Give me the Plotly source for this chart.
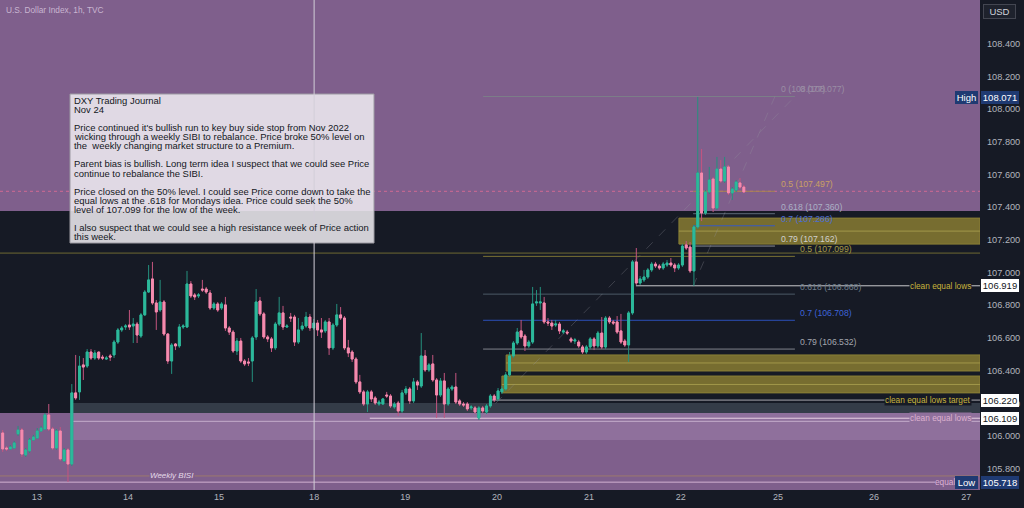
import plotly.graph_objects as go

# ---------------- DATA (hourly candles) ----------------
opens = [
    106.019, 105.927, 105.921, 105.927, 106.013, 106.037, 105.884, 105.909, 105.976, 105.988,
    106.031, 106.043, 106.129, 106.043, 105.927, 106.031, 105.848, 105.915, 105.829, 106.264,
    106.270, 106.435, 106.428, 106.514, 106.477, 106.514, 106.483, 106.471, 106.490, 106.496,
    106.575, 106.649, 106.667, 106.679, 106.673, 106.685, 106.612, 106.741, 106.881, 106.961,
    106.814, 106.771, 106.820, 106.624, 106.459, 106.563, 106.551, 106.667, 106.667, 106.930,
    106.863, 106.857, 106.899, 106.899, 106.875, 106.783, 106.808, 106.783, 106.802, 106.661,
    106.636, 106.520, 106.581, 106.459, 106.453,
    106.459, 106.606, 106.826, 106.747, 106.606, 106.594, 106.539, 106.685, 106.753, 106.667,
    106.728, 106.728, 106.575, 106.655, 106.673, 106.728, 106.661, 106.691, 106.649, 106.643,
    106.698, 106.539, 106.679, 106.741, 106.722, 106.539, 106.514, 106.471, 106.331, 106.270,
    106.196, 106.270, 106.233, 106.196, 106.196, 106.251, 106.245, 106.178, 106.202, 106.153,
    106.264, 106.288, 106.215, 106.331, 106.306, 106.490, 106.404, 106.441, 106.343, 106.251,
    106.337, 106.196, 106.288, 106.300, 106.215, 106.196, 106.196, 106.172, 106.172, 106.111,
    106.172, 106.147, 106.184, 106.245, 106.227, 106.270,
    106.288, 106.374, 106.490, 106.569, 106.643, 106.612, 106.551, 106.575, 106.814, 106.814,
    106.814, 106.698, 106.691, 106.679, 106.685, 106.636, 106.636, 106.594, 106.581, 106.575,
    106.545, 106.514, 106.545, 106.594, 106.551, 106.630, 106.545, 106.722, 106.698, 106.698,
    106.643, 106.581, 106.557, 106.753, 107.065, 106.936, 106.955, 106.973, 107.016, 107.052,
    107.040, 107.028, 107.046, 107.058, 107.046, 107.028, 107.046, 107.169, 107.156, 107.010,
    107.279, 107.609, 107.364, 107.493, 107.572, 107.395, 107.633, 107.560, 107.646, 107.487,
    107.505, 107.548, 107.523,
]
highs = [
    106.037, 105.939, 105.945, 105.970, 106.062, 106.049, 105.927, 105.988, 106.007, 106.049,
    106.062, 106.141, 106.196, 106.055, 106.043, 106.055, 105.927, 105.927, 106.318, 106.496,
    106.490, 106.477, 106.532, 106.532, 106.526, 106.514, 106.496, 106.490, 106.502, 106.588,
    106.661, 106.673, 106.685, 106.771, 106.722, 106.698, 106.753, 106.893, 107.046, 107.065,
    106.832, 106.955, 106.832, 106.630, 106.569, 106.569, 106.685, 106.685, 107.010, 106.948,
    106.875, 106.875, 106.955, 106.912, 106.893, 106.820, 106.820, 106.820, 106.851, 106.673,
    106.649, 106.600, 106.600, 106.471, 106.477,
    106.612, 106.899, 106.851, 106.759, 106.618, 106.606, 106.698, 106.851, 106.796, 106.685,
    106.753, 106.741, 106.722, 106.698, 106.759, 106.747, 106.716, 106.710, 106.722, 106.710,
    106.722, 106.691, 106.808, 106.789, 106.734, 106.588, 106.526, 106.483, 106.374, 106.282,
    106.282, 106.282, 106.245, 106.221, 106.233, 106.270, 106.257, 106.208, 106.215, 106.282,
    106.306, 106.300, 106.355, 106.343, 106.630, 106.526, 106.447, 106.496, 106.355, 106.355,
    106.386, 106.300, 106.312, 106.386, 106.227, 106.208, 106.208, 106.190, 106.184, 106.184,
    106.184, 106.196, 106.257, 106.257, 106.294, 106.306,
    106.392, 106.514, 106.581, 106.661, 106.710, 106.624, 106.588, 106.912, 106.893, 106.912,
    106.851, 106.722, 106.710, 106.710, 106.698, 106.655, 106.649, 106.606, 106.600, 106.588,
    106.557, 106.557, 106.606, 106.606, 106.643, 106.728, 106.734, 106.734, 106.710, 106.734,
    106.747, 106.594, 106.765, 107.077, 107.150, 106.979, 107.016, 107.028, 107.065, 107.065,
    107.052, 107.065, 107.077, 107.089, 107.058, 107.058, 107.175, 107.193, 107.187, 107.291,
    108.074, 107.756, 107.505, 107.646, 107.584, 107.707, 107.688, 107.707, 107.658, 107.523,
    107.566, 107.578, 107.536,
]
lows = [
    105.903, 105.909, 105.915, 105.921, 106.001, 105.872, 105.872, 105.897, 105.970, 105.982,
    106.025, 106.037, 106.031, 105.915, 105.915, 105.848, 105.841, 105.719, 105.817, 106.221,
    106.221, 106.343, 106.416, 106.465, 106.465, 106.465, 106.465, 106.465, 106.459, 106.477,
    106.563, 106.636, 106.649, 106.649, 106.569, 106.569, 106.600, 106.734, 106.875, 106.802,
    106.649, 106.759, 106.612, 106.441, 106.380, 106.526, 106.539, 106.655, 106.661, 106.844,
    106.832, 106.844, 106.881, 106.869, 106.771, 106.771, 106.759, 106.771, 106.643, 106.618,
    106.508, 106.496, 106.447, 106.428, 106.428,
    106.331, 106.588, 106.734, 106.594, 106.575, 106.514, 106.526, 106.673, 106.649, 106.661,
    106.698, 106.551, 106.563, 106.643, 106.661, 106.643, 106.649, 106.612, 106.600, 106.630,
    106.496, 106.526, 106.667, 106.710, 106.526, 106.483, 106.453, 106.318, 106.257, 106.184,
    106.147, 106.208, 106.190, 106.184, 106.190, 106.233, 106.172, 106.166, 106.123, 106.141,
    106.251, 106.196, 106.202, 106.282, 106.294, 106.392, 106.392, 106.331, 106.111, 106.239,
    106.111, 106.184, 106.276, 106.196, 106.184, 106.178, 106.153, 106.159, 106.135, 106.098,
    106.141, 106.135, 106.172, 106.208, 106.215, 106.257,
    106.276, 106.361, 106.477, 106.557, 106.594, 106.520, 106.539, 106.563, 106.796, 106.771,
    106.685, 106.673, 106.649, 106.667, 106.624, 106.624, 106.618, 106.569, 106.563, 106.539,
    106.502, 106.502, 106.532, 106.526, 106.539, 106.532, 106.532, 106.685, 106.679, 106.624,
    106.563, 106.545, 106.453, 106.741, 106.924, 106.924, 106.942, 106.961, 107.003, 107.028,
    107.016, 107.016, 107.034, 107.034, 107.003, 107.016, 107.034, 107.138, 106.997, 106.918,
    107.266, 107.315, 107.352, 107.480, 107.370, 107.383, 107.548, 107.548, 107.474, 107.444,
    107.493, 107.511, 107.487,
]
closes = [
    105.921, 105.921, 105.933, 105.958, 106.037, 105.890, 105.915, 105.976, 105.994, 106.031,
    106.049, 106.129, 106.043, 105.927, 106.031, 105.860, 105.915, 105.829, 106.264, 106.233,
    106.428, 106.422, 106.514, 106.477, 106.508, 106.477, 106.477, 106.477, 106.483, 106.575,
    106.649, 106.661, 106.673, 106.667, 106.685, 106.618, 106.741, 106.881, 106.955, 106.814,
    106.759, 106.820, 106.624, 106.459, 106.557, 106.551, 106.667, 106.673, 106.930, 106.857,
    106.851, 106.863, 106.893, 106.881, 106.783, 106.808, 106.771, 106.808, 106.661, 106.636,
    106.520, 106.581, 106.459, 106.441, 106.447,
    106.600, 106.820, 106.747, 106.606, 106.594, 106.539, 106.685, 106.753, 106.667, 106.673,
    106.722, 106.575, 106.649, 106.673, 106.728, 106.661, 106.691, 106.649, 106.636, 106.698,
    106.539, 106.679, 106.741, 106.722, 106.539, 106.508, 106.471, 106.331, 106.270, 106.196,
    106.270, 106.227, 106.202, 106.208, 106.227, 106.245, 106.184, 106.196, 106.153, 106.264,
    106.288, 106.215, 106.331, 106.312, 106.490, 106.404, 106.435, 106.343, 106.251, 106.337,
    106.196, 106.288, 106.300, 106.208, 106.196, 106.190, 106.166, 106.178, 106.147, 106.172,
    106.153, 106.184, 106.245, 106.221, 106.276, 106.288,
    106.374, 106.490, 106.569, 106.636, 106.606, 106.551, 106.575, 106.808, 106.820, 106.820,
    106.698, 106.691, 106.673, 106.685, 106.643, 106.643, 106.630, 106.581, 106.588, 106.551,
    106.514, 106.545, 106.594, 106.551, 106.630, 106.545, 106.722, 106.698, 106.691, 106.636,
    106.575, 106.557, 106.753, 107.065, 106.936, 106.961, 106.973, 107.016, 107.052, 107.040,
    107.028, 107.052, 107.058, 107.046, 107.028, 107.046, 107.162, 107.150, 107.010, 107.279,
    107.609, 107.364, 107.493, 107.566, 107.395, 107.633, 107.560, 107.646, 107.487, 107.511,
    107.554, 107.523, 107.493,
]

day_labels = ["13", "14", "15", "18", "19", "20", "21", "22", "25", "26", "27"]
day_bar_pos = [8.9, 32.6, 56.3, 81.1, 104.8, 128.7, 152.7, 176.6, 201.9, 226.9, 250.9]

price_ticks = [105.8, 106.0, 106.2, 106.4, 106.6, 106.8, 107.0, 107.2, 107.4, 107.6, 107.8, 108.0, 108.2, 108.4]

fib1_levels = [("0", 108.077), ("0.5", 107.099), ("0.618", 106.868), ("0.7", 106.708), ("0.79", 106.532)]
fib2_levels = [("0", 108.077), ("0.5", 107.497), ("0.618", 107.360), ("0.7", 107.286), ("0.79", 107.162)]

journal_lines = [
    "DXY Trading Journal",
    "Nov 24",
    "",
    "Price continued it's bullish run to key buy side stop from Nov 2022",
    "wicking through a weekly SIBI to rebalance. Price broke 50% level on",
    "the\u00a0 weekly changing market structure to a Premium.",
    "",
    "Parent bias is bullish. Long term idea I suspect that we could see Price",
    "continue to rebalance the SIBI.",
    "",
    "Price closed on the 50% level. I could see Price come down to take the",
    "equal lows at the .618 for Mondays idea. Price could seek the 50%",
    "level of 107.099 for the low of the week.",
    "",
    "I also suspect that we could see a high resistance week of Price action",
    "this week.",
]

last_close = 107.497
high_val, low_val = 108.071, 105.718
clean_lows, clean_target, clean_lows2 = 106.919, 106.220, 106.109

# ---------------- LAYOUT HELPERS ----------------
X_RANGE = [-0.7, 254.5]
Y_RANGE = [105.670, 108.667]
W, H = 980, 490
BG = "#161a25"
PURPLE = "#7f5f8c"
PURPLE_L = "#8f709c"
OLIVE = "#776d30"


def fx(px):
    return px / W


def fy(py):
    return 1 - py / H


shapes = []
ann = []


def rect(x0, x1, y0, y1, fill, xref="x", yref="y", line=None, layer="below"):
    shapes.append(dict(type="rect", xref=xref, yref=yref, x0=x0, x1=x1, y0=y0, y1=y1,
                       fillcolor=fill, line=line or dict(width=0), layer=layer))


def hline(y, x0, x1, color, width=1, dash="solid", xref="x", layer="below"):
    shapes.append(dict(type="line", xref=xref, yref="y", x0=x0, x1=x1, y0=y, y1=y,
                       line=dict(color=color, width=width, dash=dash), layer=layer))


def text(x, y, s, color, size=8.7, xanchor="left", yref="paper", yshift=0, bg=None, italic=False):
    ann.append(dict(x=x, y=y, xref="paper", yref=yref, text=(f"<i>{s}</i>" if italic else s),
                    showarrow=False, xanchor=xanchor, yanchor="middle", yshift=yshift,
                    font=dict(size=size, color=color, family="Liberation Sans, Arial"),
                    bgcolor=bg, borderpad=0))


def tag(y, s, bg, fg, x_px=981, width=38, yref="y", border=None):
    ann.append(dict(x=fx(x_px), y=y, xref="paper", yref=yref, text=s, showarrow=False,
                    xanchor="left", yanchor="middle", width=width, height=13, align="center",
                    bgcolor=bg, bordercolor=border or bg, borderwidth=1 if border else 0, borderpad=0,
                    font=dict(size=9.5, color=fg, family="Liberation Sans, Arial")))


# ---------------- ZONES ----------------
rect(0, 1, 107.376, 109.5, PURPLE, xref="paper")
rect(0, 1, 105.0, 106.141, PURPLE, xref="paper")
rect(18.3, X_RANGE[1], 105.976, 106.141, PURPLE_L)
rect(18.3, X_RANGE[1], 106.141, 106.202, "#343c48")
hline(106.090, 18.3, X_RANGE[1], "#c3abcb")

for x0, y0, y1 in [(176.1, 107.174, 107.333), (131.1, 106.398, 106.496), (130.0, 106.264, 106.367)]:
    rect(x0, X_RANGE[1], y0, y1, OLIVE, line=dict(color="#8a7f35", width=1))
    hline((y0 + y1) / 2, x0, X_RANGE[1], "#a1974a")

# full-width olive level
hline(107.119, 0, 1, "#6f6a33", xref="paper")

# fib retracements
fib1_x = (125.1, 206.3)
fib2_x = (179.8, 201.1)
fib1_line = {"0": "#7d7f88", "0.5": "#7a7234", "0.618": "#4c5a66", "0.7": "#2c50b8", "0.79": "#80838c"}
fib1_txt = {"0": "#9a8ea4", "0.5": "#a69b45", "0.618": "#6f7e8c", "0.7": "#3e64d8", "0.79": "#a3a6ae"}
fib2_line = {"0": "#7d7f88", "0.5": "#a8844f", "0.618": "#5d6a77", "0.7": "#3558c6", "0.79": "#8a8d96"}
fib2_txt = {"0": "#9a8ea4", "0.5": "#c9a064", "0.618": "#aab0c4", "0.7": "#4a6ed6", "0.79": "#d0d0cc"}
for lvl, p in fib1_levels:
    hline(p, fib1_x[0], fib1_x[1], fib1_line[lvl])
    text(fx(799), p, f"{lvl} ({p:.3f})", fib1_txt[lvl], yref="y", yshift=7)
for lvl, p in fib2_levels:
    hline(p, fib2_x[0], fib2_x[1], fib2_line[lvl])
    text(fx(780), p, f"{lvl} ({p:.3f})", fib2_txt[lvl], yref="y", yshift=7)

# dashed trend lines of the fibs
shapes.append(dict(type="line", xref="x", yref="y", x0=fib1_x[0], y0=106.121, x1=fib1_x[1], y1=108.077,
                   line=dict(color="rgba(150,150,160,0.3)", width=1, dash="dash"), layer="below"))
shapes.append(dict(type="line", xref="x", yref="y", x0=fib2_x[0], y0=106.916, x1=fib2_x[1], y1=108.077,
                   line=dict(color="rgba(150,150,160,0.3)", width=1, dash="dash"), layer="below"))

# close price dotted line
hline(last_close, 0, 1, "rgba(235,110,150,0.75)", dash="dot", xref="paper")

# marked liquidity lines
hline(clean_lows, 164.9, X_RANGE[1], "#c9c9cc")
hline(clean_target, 126.9, X_RANGE[1], "#a8a8ae")
hline(clean_lows2, 95.6, X_RANGE[1], "#e6d0e2")
hline(105.756, 0, 1, "#9c7a6e", xref="paper")
hline(low_val, -0.7, 242.8, "#d2b0d0")

# ---------------- TEXT BOX ----------------
rect(fx(70), fx(374), fy(243), fy(94), "rgba(240,238,242,0.86)", xref="paper", yref="paper",
     line=dict(color="#9c9aa2", width=1), layer="above")
for i, s in enumerate(journal_lines):
    if s:
        text(fx(73), fy(100.6 + i * 9.05), s, "#131722", size=9.45)

# crosshair vertical line
shapes.append(dict(type="line", xref="x", yref="paper", x0=81.1, x1=81.1, y0=0, y1=1,
                   line=dict(color="#d2ced8", width=1), layer="above"))

# ---------------- LABELS ----------------
text(fx(5), fy(10), "U.S. Dollar Index, 1h, TVC", "#c9b6d1", size=8.3)
text(fx(972), clean_lows, "clean equal lows", "#c8b43c", size=8.3, xanchor="right", yref="y", bg=BG)
text(fx(972), clean_target, "clean equal lows target", "#c8b43c", size=8.3, xanchor="right", yref="y", bg=BG)
text(fx(972), clean_lows2, "clean equal lows", "#dcb0cf", size=8.3, xanchor="right", yref="y", bg=PURPLE_L)
text(fx(934), low_val, "equal", "#dcb0d4", size=8.3, yref="y")
text(fx(172), 105.756, "Weekly BISI", "#e6dbe9", size=8, xanchor="center", yref="y", bg=PURPLE, italic=True)

# price-scale tags
NAVY = "#1f3a72"
tag(fy(11), "USD", "#1e222d", "#d1d4dc", x_px=983, width=31, yref="paper", border="#434651")
tag(high_val, f"{high_val:.3f}", NAVY, "#ffffff")
tag(high_val, "High", NAVY, "#ffffff", x_px=955, width=23)
tag(clean_lows, f"{clean_lows:.3f}", "#ffffff", "#131722")
tag(clean_target, f"{clean_target:.3f}", "#ffffff", "#131722")
tag(clean_lows2, f"{clean_lows2:.3f}", "#ffffff", "#131722")
tag(low_val, f"{low_val:.3f}", NAVY, "#ffffff")
tag(low_val, "Low", NAVY, "#ffffff", x_px=955, width=23)

# ---------------- TRACES ----------------
bars = list(range(len(closes)))
body_hi = [max(o, c) for o, c in zip(opens, closes)]
body_lo = [min(o, c) for o, c in zip(opens, closes)]

fig = go.Figure()
fig.add_trace(go.Candlestick(
    x=bars, open=opens, high=highs, low=lows, close=closes, whiskerwidth=0,
    increasing=dict(line=dict(color="#24907e", width=1), fillcolor="#24907e"),
    decreasing=dict(line=dict(color="#c4557f", width=1), fillcolor="#c4557f"),
    hoverinfo="skip", showlegend=False))
fig.add_trace(go.Candlestick(
    x=bars, open=opens, high=body_hi, low=body_lo, close=closes, whiskerwidth=0,
    increasing=dict(line=dict(color="#2db99b", width=1), fillcolor="#2db99b"),
    decreasing=dict(line=dict(color="#f58caf", width=1), fillcolor="#f58caf"),
    hoverinfo="skip", showlegend=False))

fig.update_layout(
    width=1024, height=508,
    margin=dict(l=0, r=44, t=0, b=18),
    paper_bgcolor=BG, plot_bgcolor=BG,
    showlegend=False, hovermode=False, dragmode=False,
    shapes=shapes, annotations=ann,
    font=dict(family="Liberation Sans, Arial", color="#b2b5be"),
    xaxis=dict(range=X_RANGE, showgrid=False, zeroline=False, showline=False,
               rangeslider=dict(visible=False), tickmode="array",
               tickvals=day_bar_pos, ticktext=day_labels, ticks="",
               tickfont=dict(size=9, color="#b2b5be")),
    yaxis=dict(range=Y_RANGE, side="right", showgrid=False, zeroline=False, showline=False,
               tickmode="array", tickvals=price_ticks, ticktext=[f"{v:.3f}" for v in price_ticks],
               ticks="", ticklabelstandoff=6, tickfont=dict(size=9.2, color="#b2b5be")),
)

fig.write_html("out.html", config={"displayModeBar": False})
